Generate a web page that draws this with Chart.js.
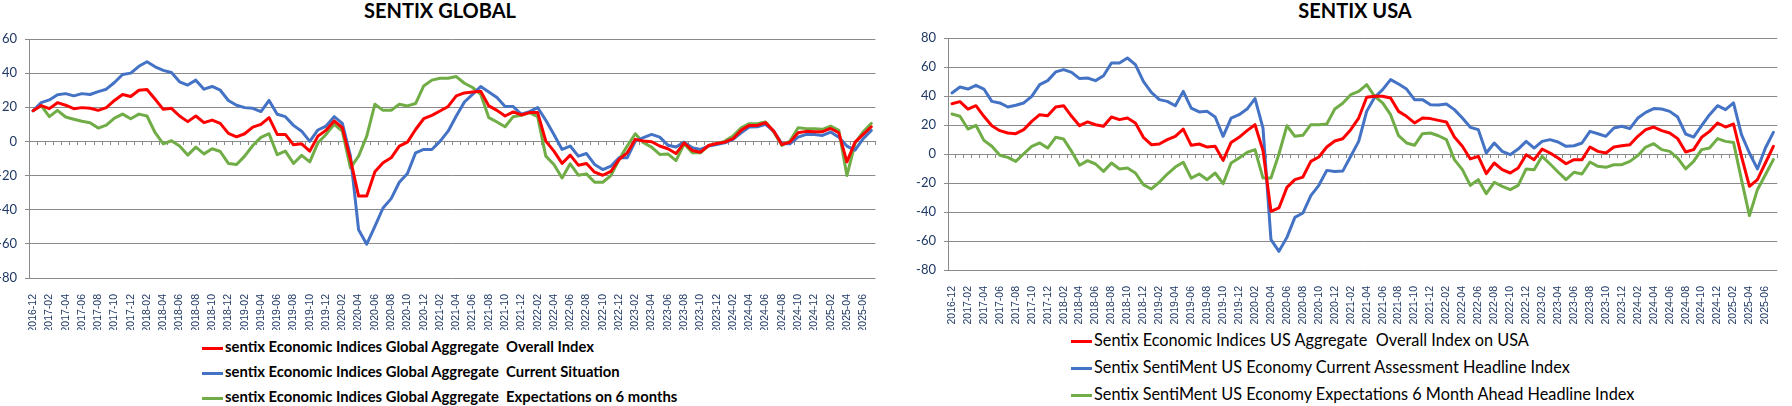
<!DOCTYPE html>
<html>
<head>
<meta charset="utf-8">
<script src="https://cdn.jsdelivr.net/npm/chart.js@4.4.1/dist/chart.umd.min.js"></script>
<style>
    html, body { margin: 0; padding: 0; background: #fff; }
    body { width: 1792px; height: 406px; position: relative; overflow: hidden; }
    canvas { position: absolute; top: 0; }
    .title { position: absolute; top: 0; font-family: Lato, sans-serif; font-weight: bold; font-size: 20px; line-height: 20px; color: #000; white-space: nowrap; text-align: center; }
    .leg { position: absolute; font-family: Lato, sans-serif; color: #000; white-space: pre; line-height: 20px; }
    .leg span { display: inline-block; width: 21px; height: 3px; vertical-align: middle; margin-right: 2px; }
</style>
</head>
<body>
<div class="title" style="left: 340px; width: 200px;">SENTIX GLOBAL</div>
<div class="title" style="left: 1255px; width: 200px;">SENTIX USA</div>
<canvas id="globalChart" width="900" height="330" style="left: -8px;"></canvas>
<canvas id="usChart" width="899" height="330" style="left: 895px;"></canvas>
<script>
const months = [
    '2016-12',
    '2017-01', '2017-02', '2017-03', '2017-04', '2017-05', '2017-06', '2017-07', '2017-08', '2017-09', '2017-10', '2017-11', '2017-12',
    '2018-01', '2018-02', '2018-03', '2018-04', '2018-05', '2018-06', '2018-07', '2018-08', '2018-09', '2018-10', '2018-11', '2018-12',
    '2019-01', '2019-02', '2019-03', '2019-04', '2019-05', '2019-06', '2019-07', '2019-08', '2019-09', '2019-10', '2019-11', '2019-12',
    '2020-01', '2020-02', '2020-03', '2020-04', '2020-05', '2020-06', '2020-07', '2020-08', '2020-09', '2020-10', '2020-11', '2020-12',
    '2021-01', '2021-02', '2021-03', '2021-04', '2021-05', '2021-06', '2021-07', '2021-08', '2021-09', '2021-10', '2021-11', '2021-12',
    '2022-01', '2022-02', '2022-03', '2022-04', '2022-05', '2022-06', '2022-07', '2022-08', '2022-09', '2022-10', '2022-11', '2022-12',
    '2023-01', '2023-02', '2023-03', '2023-04', '2023-05', '2023-06', '2023-07', '2023-08', '2023-09', '2023-10', '2023-11', '2023-12',
    '2024-01', '2024-02', '2024-03', '2024-04', '2024-05', '2024-06', '2024-07', '2024-08', '2024-09', '2024-10', '2024-11', '2024-12',
    '2025-01', '2025-02', '2025-03', '2025-04', '2025-05', '2025-06', '2025-07'
]

// global panel
const globalOverall = [18, 21, 19.2, 22.7, 21.2, 19.2, 19.8, 19.4, 18.2, 19.8, 24, 27.5, 26.3,
    30, 30.4, 24.7, 18.8, 19.4, 14.9, 11.6, 14.9, 11, 12.5, 10.6, 4.7,
    2.7, 4.5, 8.4, 10, 13.9, 4.1, 4.1, -2, -1.4, -5.7, 3.1, 6.5,
    12, 8, -10.6, -32, -32, -17.8, -12.5, -9.6, -2.7, -0.4, 7, 13.3,
    15.3, 17.8, 20.5, 26.7, 28.4, 29, 29.4, 20.8, 18.2, 14.9, 17.3, 15.5,
    16.9, 16.9, 0.2, -5.7, -12.9, -8, -13.9, -12.9, -18, -19.8, -17.5, -10.6,
    -6.7, 1.2, 0.2, -0.2, -2.7, -4.3, -7.1, -0.8, -5.3, -6.3, -2.4, -1.2,
    -0.4, 1.6, 6.5, 9.4, 9.4, 11, 6.1, -1.8, -0.4, 5.1, 5.9, 5.7,
    5.7, 7.6, 5.1, -12, -0.4, 4.1, 8.6]
const globalCurrent = [18, 22.7, 24.3, 27.3, 28, 26.7, 28, 27.5, 29.2, 30.6, 34.5, 39.2, 40,
    44, 46.7, 43.7, 41.6, 40.4, 34.9, 33, 35.9, 30.6, 32.2, 30, 24,
    21.2, 19.8, 19.4, 17.5, 24, 15.9, 14.5, 9.4, 6, 0, 6.7, 9,
    14.5, 10.6, -8.6, -51.8, -60.2, -49.8, -39, -33.5, -23.9, -18.8, -6.7, -4.7,
    -4.7, 0, 6, 14.9, 23.1, 27.6, 32.2, 29, 25.7, 20.4, 20.4, 15.9,
    17.5, 19.8, 12.4, 4.1, -4.7, -2.7, -8.6, -7.1, -13.5, -16.5, -14.5, -9.6,
    -9.6, 0.2, 2.2, 4.1, 2.5, -2.2, -3.3, -0.4, -3.7, -4.7, -2.7, -1.8,
    -0.8, 1.2, 5.1, 8.4, 8.6, 10, 6.1, -1.2, -1.4, 2.5, 4.1, 4.1,
    3.5, 5.5, 2.5, -2.7, -5.1, 1.6, 6.5]
const globalExpect = [18, 21, 14.5, 18.2, 14.3, 13, 11.8, 11, 7.8, 9.6, 13.7, 16, 13.3,
    16, 14.9, 5.1, -1.4, 0.4, -2.7, -8, -3.3, -7.3, -4.3, -5.9, -12.9,
    -13.5, -8.6, -2.4, 2.4, 4.5, -7.8, -5.7, -12.9, -8.2, -12, -0.8, 4.1,
    10, 6, -15.5, -8.6, 3.1, 21.8, 18.2, 18.2, 21.8, 20.8, 22.2, 32.5,
    35.9, 37, 37, 38, 34.1, 31.6, 27.6, 13.9, 11.4, 8.6, 14.5, 15.3,
    16.9, 14.5, -8.6, -13.5, -21.4, -13.1, -19.8, -19, -23.9, -23.9, -20, -10.6,
    -2.7, 4.5, -0.8, -3.3, -7.6, -7.3, -11.2, -1.4, -6.7, -6.7, -2.4, -1.4,
    0.2, 3.1, 8, 10.4, 10.4, 11.4, 5.5, -2.4, 0.2, 8, 7.5, 7.5,
    7.1, 9, 6.5, -20, -1.2, 5.7, 10.6]
const globalNames = [
    'sentix Economic Indices Global Aggregate  Overall Index',
    'sentix Economic Indices Global Aggregate  Current Situation',
    'sentix Economic Indices Global Aggregate  Expectations on 6 months'
]
const globalTicks = [-80, -60, -40, -20, 0, 20, 40, 60]

// usa panel
const usOverall = [34.7, 36.1, 31, 33.3, 26, 19.5, 16.1, 14.5, 14, 16.8, 22.5, 27.1, 26.4,
    32.4, 33.3, 26, 19.5, 22.1, 20.2, 19.1, 25.5, 23.7, 24.8, 21.4, 11.5,
    6.4, 6.9, 9.9, 12.2, 17.2, 6, 6.9, 4.8, 5.3, -4.4, 8, 11.5,
    16.1, 20.2, 2.3, -39.5, -37.2, -23, -17.7, -15.9, -5.1, -2.1, 4.8, 9,
    10.5, 16.8, 24.8, 39.1, 39.8, 39.8, 38.6, 29.4, 26, 21.4, 24.8, 24.4,
    23.2, 22.1, 11.7, 5.3, -3.4, -1.6, -13.6, -6.2, -10.8, -13.1, -9.7, -0.5,
    -3.9, 3.4, 0.7, -2.8, -6.7, -3.9, -3.9, 4.8, 1.8, 0.7, 4.8, 5.7,
    6.4, 12.2, 16.8, 18.6, 16.1, 14.5, 10.6, 1.4, 3, 11.5, 15.6, 21.4,
    18.6, 20.7, -1.6, -22.3, -17.7, -6.2, 5.3]
const usCurrent = [42.1, 46.2, 44.8, 47.4, 44.8, 36.3, 35.2, 32.4, 33.6, 35.2, 39.8, 47.8, 50.6,
    56.6, 58.2, 56.3, 52, 52.4, 50.6, 54, 62.8, 62.8, 66.2, 61.6, 50.1,
    42.5, 37.5, 36.3, 33.3, 43.2, 31.7, 29, 29.4, 25.5, 12.2, 24.8, 27.1,
    31, 38.2, 17.9, -59.1, -67.1, -57.5, -43.7, -40.7, -28.7, -21.6, -11.3, -12,
    -11.8, -1.6, 8.7, 29.4, 39.1, 44.4, 51.3, 48.3, 44.8, 37.5, 37.5, 34,
    33.8, 34.5, 30.6, 24.8, 18.4, 16.8, 0.7, 7.6, 1.8, -0.5, 3.4, 8.7,
    4.1, 8.7, 9.9, 8.3, 5.3, 5.7, 7.6, 15.6, 14, 12.2, 17.9, 19.1,
    17.5, 24.8, 28.7, 31.3, 31, 29.4, 25.5, 13.8, 11.7, 19.5, 27.1, 33.3,
    30.6, 35.2, 13.3, 0.7, -10.3, 4.1, 14.9]
const usExpect = [27.6, 26, 17.2, 19.8, 9.4, 5.3, -0.9, -2.3, -5.1, 0.2, 5.3, 7.6, 4.1,
    11.5, 10.3, 1.8, -7.8, -4.6, -6.9, -12, -6.2, -10.3, -9.7, -13.1, -21.1,
    -24.1, -19.5, -13.8, -9, -5.7, -16.6, -13.8, -17.7, -13.1, -20.5, -6.2, -2.8,
    1.1, 3, -16.6, -16.6, 0, 19.5, 12.2, 12.9, 20.2, 20.2, 20.7, 31,
    35, 40.9, 43.2, 47.8, 39.8, 35.2, 27.1, 12.6, 7.6, 6, 14, 14.5,
    12.6, 9.9, -3.9, -10.8, -21.6, -17.7, -27.4, -19.5, -22.3, -24.6, -21.6, -10.3,
    -10.8, -1.6, -6.9, -12.4, -17.7, -12.6, -13.8, -5.5, -8.5, -9.2, -7.4, -7.4,
    -5.1, -1.1, 4.8, 7.1, 3, 1.8, -2.8, -10.3, -5.1, 3, 4.1, 10.6,
    8.7, 8, -17.7, -42.5, -24.6, -14.3, -3.9]
const usNames = [
    'Sentix Economic Indices US Aggregate  Overall Index on USA',
    'Sentix SentiMent US Economy Current Assessment Headline Index',
    'Sentix SentiMent US Economy Expectations 6 Month Ahead Headline Index'
]
const usTicks = [-80, -60, -40, -20, 0, 20, 40, 60, 80]

const colors = ['#ff0000', '#4472c4', '#70ad47']
const gridColor = '#8a8a8a'
const tickColor = '#1f3864'

function makeChart(canvasId, series, names, yTicks, yWidth, xHeight, padRight, padTop) {
    const ctx = document.getElementById(canvasId).getContext('2d')
    return new Chart(ctx, {
        type: 'line',
        data: {
            labels: months,
            datasets: series.map((s, i) => ({
                label: names[i],
                data: s,
                borderColor: colors[i],
                backgroundColor: colors[i],
                borderWidth: 3,
                pointRadius: 0,
                tension: 0,
                borderJoinStyle: 'round',
                borderCapStyle: 'round'
            }))
        },
        options: {
            responsive: false,
            animation: false,
            devicePixelRatio: 1,
            layout: { padding: { top: padTop, right: padRight, left: 0, bottom: 0 } },
            plugins: {
                legend: { display: false },
                title: { display: false },
                tooltip: { enabled: false }
            },
            scales: {
                x: {
                    offset: true,
                    grid: { display: false },
                    border: { display: false },
                    ticks: {
                        autoSkip: false,
                        minRotation: 90,
                        maxRotation: 90,
                        padding: 8,
                        color: tickColor,
                        font: { family: 'Liberation Sans, Arial, sans-serif', size: 10.5 },
                        callback: (v, i) => i % 2 === 0 ? months[i] : ''
                    },
                    afterFit: scale => { scale.height = xHeight }
                },
                // tick marks on the zero line, like excel
                x0: {
                    type: 'category',
                    axis: 'x',
                    position: { y: 0 },
                    offset: true,
                    grid: { offset: true, drawOnChartArea: false, drawTicks: true, tickLength: 4, color: gridColor },
                    border: { display: false },
                    ticks: { display: false },
                    afterFit: scale => { scale.height = 0 }
                },
                y: {
                    min: yTicks[0],
                    max: yTicks[yTicks.length - 1],
                    afterBuildTicks: scale => { scale.ticks = yTicks.map(v => ({ value: v })) },
                    grid: { color: gridColor, lineWidth: 1, drawTicks: true, tickLength: 4 },
                    border: { display: true, color: gridColor, width: 1 },
                    ticks: {
                        padding: 8,
                        color: tickColor,
                        font: { family: 'Lato, sans-serif', size: 13 }
                    },
                    afterFit: scale => { scale.width = yWidth }
                }
            }
        }
    })
}

function makeLegend(names, left, tops, fontSize, weight) {
    names.forEach((name, i) => {
        const div = document.createElement('div')
        div.className = 'leg'
        div.style.left = left + 'px'
        div.style.top = tops[i] + 'px'
        div.style.fontSize = fontSize + 'px'
        div.style.fontWeight = weight
        const mark = document.createElement('span')
        mark.style.background = colors[i]
        div.appendChild(mark)
        div.appendChild(document.createTextNode(name))
        document.body.appendChild(div)
    })
}

document.addEventListener('DOMContentLoaded', function () {
    makeChart('globalChart', [globalOverall, globalCurrent, globalExpect], globalNames, globalTicks, 37, 52, 15, 39)
    makeChart('usChart', [usOverall, usCurrent, usExpect], usNames, usTicks, 53, 60, 6, 38)

    makeLegend(globalNames, 202, [336, 361, 386], 14.8, 'bold')
    makeLegend(usNames, 1071, [330, 357, 384], 16.3, 'normal')
})
</script>
</body>
</html>
